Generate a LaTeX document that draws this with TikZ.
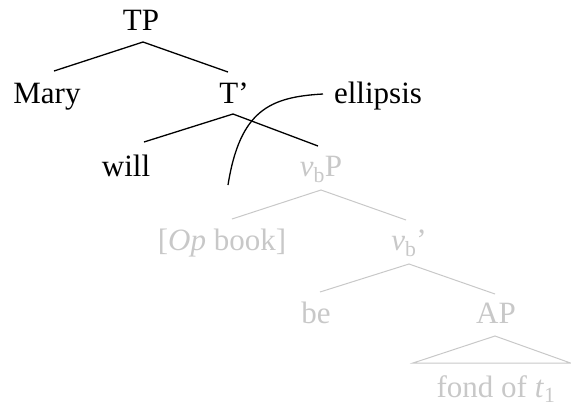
\documentclass[tikz,border=0pt]{standalone}
\usepackage{fontspec}
\setmainfont{Liberation Serif}
\definecolor{ghost}{RGB}{200,200,200}
\begin{document}
\begin{tikzpicture}[x=1pt,y=-1pt,
  lbl/.style={anchor=base,inner sep=0pt,font=\fontsize{31}{36}\selectfont},
  faint/.style={lbl,text=ghost},
  branch/.style={draw=black,line width=1.3pt},
  fbranch/.style={draw=ghost,line width=1pt},
  elide/.style={draw=black,line width=1.3pt}]
\useasboundingbox (0,0) rectangle (571,408);
% labels
\node[lbl] (TP) at (141,30) {TP};
\node[lbl] (Mary) at (47,103) {Mary};
\node[lbl] (Tbar) at (234,103) {T’};
\node[lbl] (ell) at (378,103) {ellipsis};
\node[lbl] (will) at (126,176) {will};
\node[faint] (vbP) at (321,176) {\textit{v}\textsubscript{b}P};
\node[faint] (op) at (222,250) {[\textit{Op} book]};
\node[faint] (vbbar) at (409,250) {\textit{v}\textsubscript{b}’};
\node[faint] (be) at (316,323) {be};
\node[faint] (AP) at (496,323) {AP};
\node[faint] (fond) at (496,397) {fond of \textit{t}\textsubscript{1}};
% branch ends
\coordinate (TPa) at (143,42);
\coordinate (Marya) at (54,71);
\coordinate (Tbara) at (228,72);
\coordinate (Tbarb) at (233,114);
\coordinate (willa) at (144,142);
\coordinate (vbPa) at (318,146);
\coordinate (vbPb) at (321,190);
\coordinate (opa) at (232,219);
\coordinate (vbbara) at (406,220);
\coordinate (vbbarb) at (409,264);
\coordinate (bea) at (320,292);
\coordinate (APa) at (495,294);
\coordinate (APb) at (495,336);
\coordinate (fondl) at (413,363);
\coordinate (fondr) at (570.5,363);
\coordinate (ellfoot) at (228,185);
\coordinate (ellhead) at (323,94);
% branches
\draw[branch] (Marya) -- (TPa) -- (Tbara);
\draw[branch] (willa) -- (Tbarb) -- (vbPa);
\draw[fbranch] (opa) -- (vbPb) -- (vbbara);
\draw[fbranch] (bea) -- (vbbarb) -- (APa);
\draw[fbranch] (fondl) -- (APb) -- (fondr) -- cycle;
% ellipsis curve
\draw[elide] (ellfoot) .. controls (240,110) and (270,97) .. (ellhead);
\end{tikzpicture}
\end{document}
